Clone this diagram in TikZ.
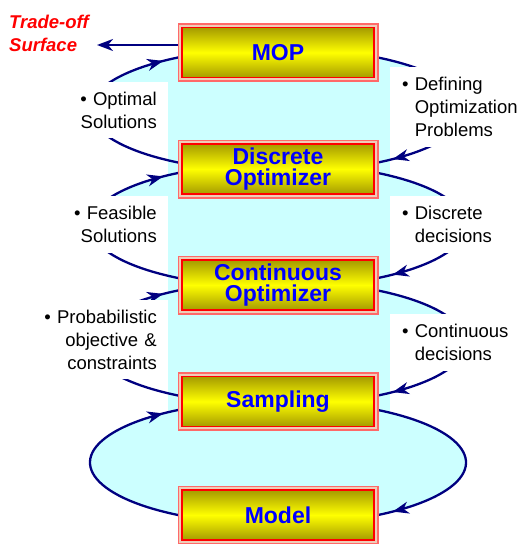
\documentclass[tikz,border=0pt]{standalone}
\usepackage{fontspec}
\setmainfont{Liberation Sans}
\usetikzlibrary{arrows.meta,decorations.markings,calc}
\definecolor{cyanfill}{RGB}{204,255,255}
\definecolor{navyline}{RGB}{0,0,128}
\definecolor{boxdark}{RGB}{165,155,0}
\definecolor{boxyellow}{RGB}{255,255,0}
\definecolor{frameouter}{RGB}{255,105,105}
\definecolor{framegap}{RGB}{238,205,185}
\definecolor{titleblue}{RGB}{0,0,255}
\newcommand{\myframeofbox}[1]{%
  \draw[framegap, line width=2pt] ([shift={(-1.7pt,1.7pt)}]#1.north west) rectangle ([shift={(1.7pt,-1.7pt)}]#1.south east);
  \draw[frameouter, line width=1.8pt] ([shift={(-3.6pt,3.6pt)}]#1.north west) rectangle ([shift={(3.6pt,-3.6pt)}]#1.south east);}
\begin{document}
\begin{tikzpicture}[x=1pt,y=1pt,
  loopline/.style={draw=navyline, color=navyline, line width=2.3pt},
  arrowed/.style={postaction={decorate}, decoration={markings, mark=at position #1 with {\arrow{Stealth[length=16pt,width=12pt,inset=5pt]}}}},
  mybox/.style={rectangle, draw=red, line width=1.5pt, outer sep=0pt,
    top color=boxdark, bottom color=boxdark, middle color=boxyellow,
    minimum width=192pt, minimum height=50pt, inner sep=0pt,
    text=titleblue, align=center, font=\bfseries\fontsize{23}{21}\selectfont},
  lbl/.style={fill=white, inner xsep=11pt, inner ysep=0pt, text width=116pt, align=right,
    anchor=east, font=\fontsize{18.5}{23}\selectfont},
  lbr/.style={fill=white, inner xsep=12pt, inner ysep=0pt, text width=125pt, align=left,
    anchor=west, font=\fontsize{18.5}{23}\selectfont}
]
\useasboundingbox (0,0) rectangle (521,-544);

% loop centres
\coordinate (c1) at (278,-110);
\coordinate (c2) at (278,-225.5);
\coordinate (c3) at (278,-343);
\coordinate (c4) at (278,-462.5);

% cyan fills
\foreach \k in {1,2,3}{\fill[cyanfill] (c\k) ellipse[x radius=188pt, y radius=62pt];}
\fill[cyanfill] (168,-110) rectangle (390,-462.5);
% white areas below the labels
\fill[white] (0,-82) rectangle (168,-168);
\fill[white] (0,-196) rectangle (168,-287);
\fill[white] (0,-300) rectangle (168,-405);
\fill[white] (390,-67) rectangle (521,-168);
\fill[white] (390,-196) rectangle (521,-287);
\fill[white] (390,-314) rectangle (521,-405);
\fill[cyanfill] (c4) ellipse[x radius=188pt, y radius=62pt];

% loop arcs
\foreach \k in {1,2,3,4}{
  \coordinate (L\k) at ($(c\k)+(237.86:188pt and 62pt)$);
  \coordinate (R\k) at ($(c\k)+(57.86:188pt and 62pt)$);
  \draw[loopline, arrowed=0.93] (L\k) arc[start angle=237.86, end angle=122.14, x radius=188pt, y radius=62pt];
  \draw[loopline, arrowed=0.93] (R\k) arc[start angle=57.86, end angle=-57.86, x radius=188pt, y radius=62pt];
}

% labels
\node[lbl, minimum height=56pt] (l1) at (168,-110) {\textbullet\ Optimal\\Solutions};
\node[lbl, minimum height=57pt] (l2) at (168,-224.5) {\textbullet\ Feasible\\Solutions};
\node[lbl, minimum height=79pt] (l3) at (168,-339.5) {\textbullet\ Probabilistic\\objective \&\\constraints};
\node[lbr, minimum height=80pt] (r1) at (390,-107) {\textbullet\ Defining\\\phantom{\textbullet\ }Optimization\\\phantom{\textbullet\ }Problems};
\node[lbr, minimum height=57pt] (r2) at (390,-224.5) {\textbullet\ Discrete\\\phantom{\textbullet\ }decisions};
\node[lbr, minimum height=57pt] (r3) at (390,-342.5) {\textbullet\ Continuous\\\phantom{\textbullet\ }decisions};

% boxes
\node[mybox] (mop) at (278,-52.5) {MOP};
\node[mybox] (disc) at (278,-169) {Discrete\\Optimizer};
\node[mybox] (cont) at (278,-285) {Continuous\\Optimizer};
\node[mybox] (samp) at (278,-401.5) {Sampling};
\node[mybox] (model) at (278,-515) {Model};
\foreach \b in {mop,disc,cont,samp,model}{\myframeofbox{\b}}

% trade-off surface
\node[anchor=west, align=left, inner sep=0pt, text=red, font=\bfseries\itshape\fontsize{18.5}{23}\selectfont] (ts) at (9,-33) {Trade-off\\Surface};
\coordinate (tsend) at (97,-45);
\draw[loopline, -{Stealth[length=16pt,width=12pt,inset=5pt]}] ([shift={(-4.5pt,7.5pt)}]mop.west) -- (tsend);
\end{tikzpicture}
\end{document}
